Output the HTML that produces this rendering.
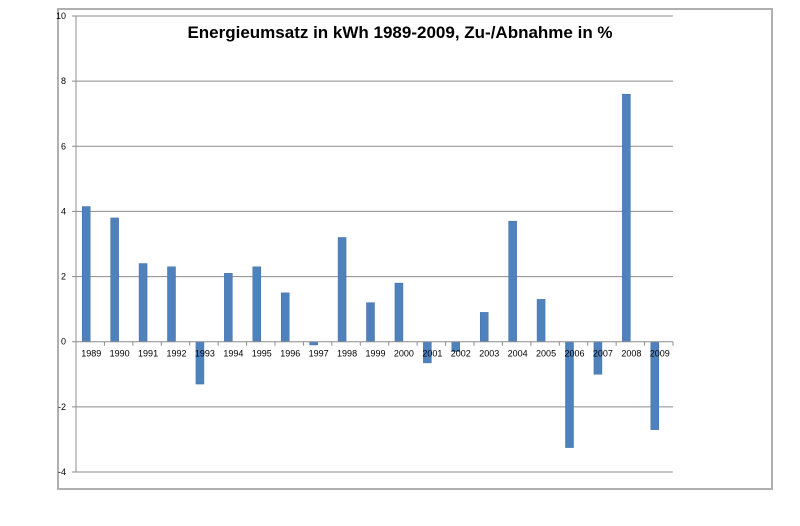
<!DOCTYPE html>
<html><head><meta charset="utf-8"><style>
body{margin:0;background:#fff;}
svg{display:block;font-family:"Liberation Sans",sans-serif;}
</style></head><body>
<svg id="chart" width="800" height="526">
<rect x="58" y="9" width="714" height="480" fill="#fff" stroke="#b0b0b0" stroke-width="2"/>
<text x="400" y="38" text-anchor="middle" font-size="17" font-weight="bold">Energieumsatz in kWh 1989-2009, Zu-/Abnahme in %</text>
<g id="grid"></g><g id="bars"></g><g id="axes"></g>
</svg>
<script>
const years=["1989","1990","1991","1992","1993","1994","1995","1996","1997","1998","1999","2000","2001","2002","2003","2004","2005","2006","2007","2008","2009"];
const values=[4.15,3.8,2.4,2.3,-1.3,2.1,2.3,1.5,-0.1,3.2,1.2,1.8,-0.65,-0.3,0.9,3.7,1.3,-3.25,-1.0,7.6,-2.7];
const yTicks=[-4,-2,0,2,4,6,8,10];
const NS="http://www.w3.org/2000/svg";
const x0=76,x1=673,yTop=16,yBot=472;
const y=v=>yTop+(10-v)*(yBot-yTop)/14;
const step=(x1-x0)/years.length;
const xc=i=>x0+(i+0.5)*step;
function mk(tag,attrs,parent){const e=document.createElementNS(NS,tag);for(const k in attrs)e.setAttribute(k,attrs[k]);document.getElementById(parent).appendChild(e);return e;}
yTicks.forEach(t=>{
  if(t!==0){const l=mk('line',{x1:x0,x2:x1,y1:y(t),y2:y(t),stroke:'#8c8c8c','stroke-width':1},'grid');
  
  }
  const tk=mk('line',{x1:x0-4,x2:x0,y1:y(t),y2:y(t),stroke:'#8c8c8c'},'axes');
  
  
  const tx=mk('text',{x:x0-10,y:y(t)+3,'text-anchor':'end','font-size':9},'axes');
  tx.textContent=t;
  
  
});
values.forEach((v,i)=>{
  const c=xc(i);
  const r=mk('rect',{x:c-8,width:8,y:Math.min(y(v),y(0)),height:Math.abs(y(v)-y(0)),fill:'#4f81bd',stroke:'#3f6fa8','stroke-width':0.5},'bars');
  
  
});
const ya=mk('line',{x1:x0,x2:x0,y1:yTop,y2:yBot,stroke:'#8c8c8c'},'axes');


const xa=mk('line',{x1:x0,x2:x1,y1:y(0),y2:y(0),stroke:'#8c8c8c'},'axes');


years.forEach((yr,i)=>{
  const tk=mk('line',{x1:x0+(i+1)*step,x2:x0+(i+1)*step,y1:y(0),y2:y(0)+4,stroke:'#8c8c8c'},'axes');
  
  
  const tx=mk('text',{x:xc(i)+1,y:y(0)+15,'text-anchor':'middle','font-size':9},'axes');
  tx.textContent=yr;
  
  
});
</script>
</body></html>
